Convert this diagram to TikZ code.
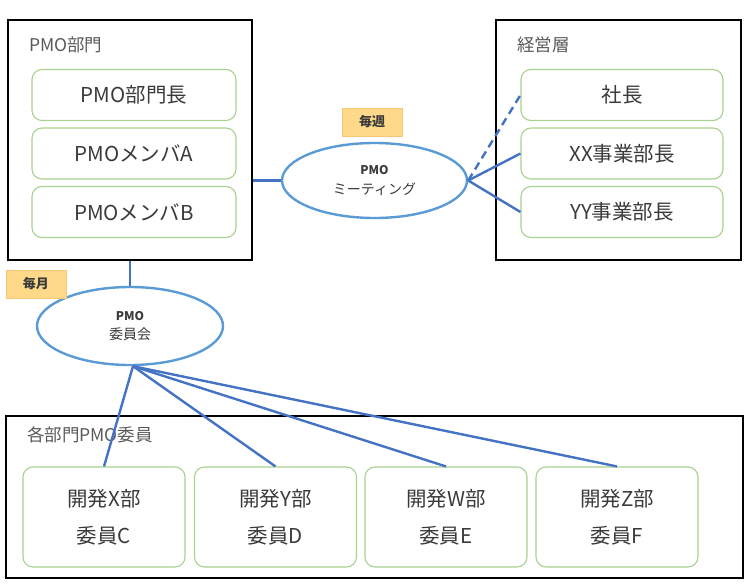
\documentclass[tikz,border=0pt]{standalone}
\usepackage{fontspec}
\setmainfont{Noto Sans CJK JP}
\usetikzlibrary{shapes.geometric}
\definecolor{linkblue}{HTML}{4472C4}
\definecolor{ellblue}{HTML}{5B9BD5}
\definecolor{boxgreen}{HTML}{A9D18E}
\definecolor{txtgray}{HTML}{3A3A3A}
\definecolor{lblgray}{HTML}{595959}
\definecolor{tagfill}{HTML}{FFD98A}
\definecolor{tagline}{HTML}{F7C873}
\tikzset{
  outerbox/.style={draw=black, line width=2pt, rectangle, inner sep=0pt},
  memberbox/.style={draw=boxgreen, line width=1.1pt, rectangle, rounded corners=10pt, inner sep=0pt,
    text=txtgray, font=\fontsize{20.5}{37}\selectfont, align=center},
  grouplabel/.style={anchor=west, inner sep=0pt, text=lblgray, font=\fontsize{17.5}{18}\selectfont},
  meetell/.style={draw=ellblue, line width=2.4pt, ellipse, inner sep=0pt, align=center, text=txtgray,
    font=\fontsize{14}{19.5}\selectfont},
  tagbox/.style={draw=tagline, fill=tagfill, line width=0.8pt, rectangle, inner sep=0pt,
    minimum width=60pt, minimum height=28pt, font=\bfseries\fontsize{13}{14}\selectfont, text=txtgray},
  link/.style={draw=linkblue, line width=2.4pt},
}
\begin{document}
\begin{tikzpicture}[x=1pt, y=-1pt]
\useasboundingbox (0,0) rectangle (750,584);
% PMO department
\node[outerbox, minimum width=244pt, minimum height=240pt] (pmo) at (130,140) {};
\node[grouplabel] (pmolbl) at (29,45) {PMO部門};
\node[memberbox, minimum width=204pt, minimum height=51pt] (pmohead) at (134,95) {PMO部門長};
\node[memberbox, minimum width=204pt, minimum height=51pt] (pmoa) at (134,153.5) {PMOメンバA};
\node[memberbox, minimum width=204pt, minimum height=51pt] (pmob) at (134,212) {PMOメンバB};
% management
\node[outerbox, minimum width=245pt, minimum height=240pt] (mgmt) at (618.5,140) {};
\node[grouplabel] (mgmtlbl) at (517,45) {経営層};
\node[memberbox, minimum width=202pt, minimum height=51pt] (pres) at (622,95) {社長};
\node[memberbox, minimum width=202pt, minimum height=51pt] (xx) at (622,153.5) {XX事業部長};
\node[memberbox, minimum width=202pt, minimum height=51pt] (yy) at (622,212) {YY事業部長};
% meeting
\node[meetell, minimum width=185pt, minimum height=75pt] (meet) at (374.5,180.5)
  {{\bfseries\fontsize{12}{19.5}\selectfont PMO}\\ミーティング};
\node[tagbox] (weekly) at (372,122) {毎週};
% committee
\node[meetell, minimum width=186pt, minimum height=78pt] (comm) at (130,326)
  {{\bfseries\fontsize{12}{19.5}\selectfont PMO}\\委員会};
\node[tagbox] (monthly) at (36,284) {毎月};
% departments
\node[outerbox, minimum width=737pt, minimum height=162pt] (depts) at (374.5,497) {};
\node[grouplabel] (deptlbl) at (27,435) {各部門PMO委員};
\node[memberbox, minimum width=162pt, minimum height=100pt] (dx) at (104,517) {開発X部\\委員C};
\node[memberbox, minimum width=162pt, minimum height=100pt] (dy) at (275.5,517) {開発Y部\\委員D};
\node[memberbox, minimum width=162pt, minimum height=100pt] (dw) at (446,517) {開発W部\\委員E};
\node[memberbox, minimum width=162pt, minimum height=100pt] (dz) at (617,517) {開発Z部\\委員F};
% connectors
\draw[link] (pmo.east |- meet.west) -- (meet.west);
\draw[link, dashed, dash pattern=on 8pt off 5pt] (meet.east) -- (pres.west);
\draw[link] (meet.east) -- (xx.west);
\draw[link] (meet.east) -- (yy.west);
\draw[link] (pmo.south) -- (comm.north);
\coordinate (cs) at ([xshift=3pt]comm.south);
\draw[link] (cs) -- (dx.north);
\draw[link] (cs) -- (dy.north);
\draw[link] (cs) -- (dw.north);
\draw[link] (cs) -- (dz.north);
\end{tikzpicture}
\end{document}
